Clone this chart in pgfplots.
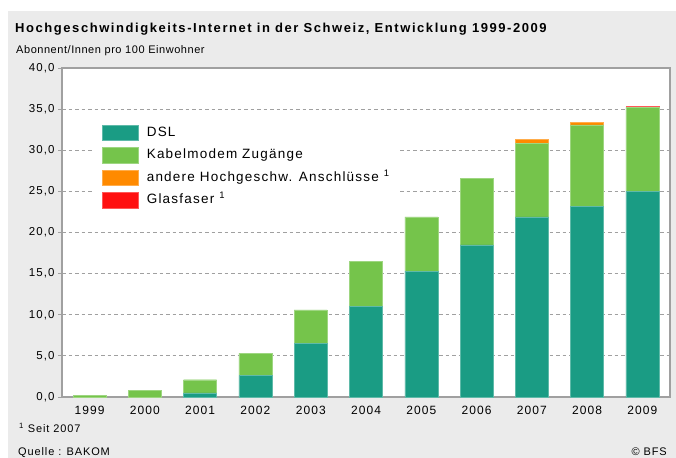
\documentclass[border=0pt]{standalone}
\usepackage{fontspec}
\setmainfont{Liberation Sans}
\newfontfamily\titlefont[LetterSpace=12]{Liberation Sans}
\newfontfamily\subfont[LetterSpace=5]{Liberation Sans}
\newfontfamily\tickfont[LetterSpace=9]{Liberation Sans}
\newfontfamily\legfont[LetterSpace=9]{Liberation Sans}
\newfontfamily\notefont[LetterSpace=8]{Liberation Sans}
\usepackage{pgfplots}
\pgfplotsset{compat=1.18}
\definecolor{dsl}{HTML}{1A9C84}
\definecolor{cable}{HTML}{75C44B}
\definecolor{orng}{HTML}{FF8A00}
\definecolor{redc}{HTML}{FF1010}
\definecolor{bg}{HTML}{EBEBEB}
\definecolor{frame}{HTML}{A0A0A0}
\pgfplotstableread{
x dsl cable other fiber
0 0.0 0.2 0.0 0.0
1 0.0 0.8 0.0 0.0
2 0.5 1.6 0.0 0.0
3 2.6 2.7 0.0 0.0
4 6.5 4.1 0.0 0.0
5 11.0 5.5 0.0 0.0
6 15.3 6.6 0.0 0.0
7 18.5 8.1 0.0 0.0
8 21.9 8.9 0.5 0.0
9 23.2 9.9 0.3 0.0
10 25.0 10.2 0.0 0.2
}\data
\begin{document}
\begin{tikzpicture}
\path[fill=white, use as bounding box] (0,0) rectangle (676bp,458bp);
\fill[bg] (8bp,0) rectangle (676bp,447bp);
\begin{axis}[
  at={(62bp,61bp)}, anchor=south west,
  scale only axis, width=608bp, height=329bp,
  ybar stacked, bar width=33bp,
  xmin=-0.5, xmax=10.5, ymin=0, ymax=40,
  xtick={0,...,10},
  xticklabels={1999,2000,2001,2002,2003,2004,2005,2006,2007,2008,2009},
  ytick={0,5,...,40},
  /pgf/number format/assume math mode=true,
  yticklabel={\pgfmathprintnumber[fixed,fixed zerofill,precision=1,use comma]{\tick}},
  xticklabel style={font=\tickfont\fontsize{12bp}{14bp}\selectfont, yshift=-2bp},
  yticklabel style={font=\tickfont\fontsize{11.5bp}{14bp}\selectfont},
  x tick style={draw=none},
  y tick style={draw=frame, line width=0.8bp},
  tick align=outside, major tick length=4bp,
  xtick pos=bottom, ytick pos=left,
  ymajorgrids, grid style={frame, line width=0.8bp, dash pattern=on 3.5bp off 3bp},
  axis line style={frame, line width=1.2bp},
  axis background/.style={fill=white},
  legend image code/.code={\fill[#1] (0bp,-7.75bp) rectangle (36bp,7.75bp);},
  legend style={at={(0.053,0.843)}, anchor=north west, fill=white, draw=none,
    font=\legfont\fontsize{13.5bp}{15bp}\selectfont, row sep=6.6bp,
    nodes={inner ysep=1bp, text height=10bp, text depth=3bp},
    /tikz/every odd column/.append style={column sep=6bp},
    inner xsep=8bp, inner ysep=5bp},
  legend cell align=left,
]
\addplot[fill=dsl, draw=dsl!70!white] table[x=x,y=dsl]{\data};
\addlegendentry{DSL}
\addplot[fill=cable, draw=cable!70!white] table[x=x,y=cable]{\data};
\addlegendentry{Kabelmodem Zugänge}
\addplot[fill=orng, draw=orng!70!white] table[x=x,y=other]{\data};
\addlegendentry{andere Hochgeschw. Anschlüsse \textsuperscript{1}}
\addplot[fill=redc, draw=redc!70!white] table[x=x,y=fiber]{\data};
\addlegendentry{Glasfaser \textsuperscript{1}}
\end{axis}
\node[anchor=base west, font=\titlefont\bfseries\fontsize{13bp}{15bp}\selectfont, inner sep=0] at (15bp,425.7bp) {Hochgeschwindigkeits-Internet in der Schweiz, Entwicklung 1999-2009};
\node[anchor=base west, font=\subfont\fontsize{11bp}{13bp}\selectfont, inner sep=0] at (16bp,404.7bp) {Abonnent/Innen pro 100 Einwohner};
\node[anchor=base west, font=\notefont\fontsize{11bp}{13bp}\selectfont, inner sep=0] at (19bp,26bp) {\textsuperscript{1} Seit 2007};
\node[anchor=base west, font=\notefont\fontsize{11bp}{13bp}\selectfont, inner sep=0] at (18bp,2.5bp) {Quelle : BAKOM};
\node[anchor=base east, font=\notefont\fontsize{11bp}{13bp}\selectfont, inner sep=0] at (667bp,2.5bp) {© BFS};
\end{tikzpicture}
\end{document}
